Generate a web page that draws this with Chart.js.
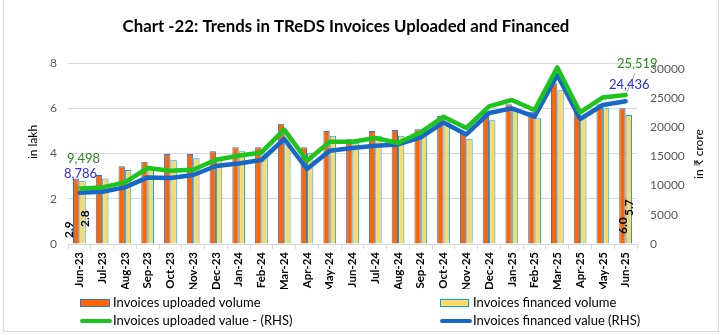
<!DOCTYPE html>
<html>
<head>
<meta charset="utf-8">
<script src="https://cdn.jsdelivr.net/npm/chart.js@4.4.1/dist/chart.umd.min.js"></script>
<style>
  html, body { margin: 0; padding: 0; background: #fff; }
  #wrap { position: relative; width: 725px; height: 335px; }
  canvas { display: block; }
</style>
</head>
<body>
<div id="wrap"><canvas id="c" width="725" height="335"></canvas></div>
<script>
// ---- Data ----
const months = ["Jun-23","Jul-23","Aug-23","Sep-23","Oct-23","Nov-23","Dec-23","Jan-24","Feb-24","Mar-24","Apr-24","May-24","Jun-24","Jul-24","Aug-24","Sep-24","Oct-24","Nov-24","Dec-24","Jan-25","Feb-25","Mar-25","Apr-25","May-25","Jun-25"];
const uploadedVolume = [2.9, 3.05, 3.44, 3.63, 3.98, 3.98, 4.10, 4.28, 4.28, 5.31, 4.28, 4.99, 4.63, 4.99, 5.04, 5.07, 5.66, 4.93, 5.85, 6.18, 5.85, 7.11, 5.88, 6.18, 6.0];
const financedVolume = [2.8, 2.9, 3.27, 3.32, 3.70, 3.79, 3.82, 4.10, 4.04, 4.90, 4.01, 4.78, 4.48, 4.78, 4.78, 4.87, 5.53, 4.65, 5.47, 5.90, 5.56, 6.80, 5.65, 6.00, 5.7];
const uploadedValue = [9498, 9694, 10550, 13016, 12554, 12725, 14438, 15123, 15688, 19576, 14267, 17521, 17521, 18155, 17298, 19114, 21802, 19867, 23567, 24663, 22950, 30246, 22539, 25108, 25519];
const financedValue = [8786, 8957, 9694, 11407, 11304, 11818, 13359, 13804, 14387, 17983, 12845, 15980, 16442, 16836, 17058, 18257, 20826, 18771, 22436, 23224, 21802, 28945, 21409, 23807, 24436];
const leftTicks = [0, 2, 4, 6, 8];
const rightTicks = [0, 5000, 10000, 15000, 20000, 25000, 30000];
const seriesNames = ["Invoices uploaded volume", "Invoices financed volume", "Invoices uploaded value - (RHS)", "Invoices financed value (RHS)"];
const titleText = "Chart -22: Trends in TReDS Invoices Uploaded and Financed";

const FONT = 'Lato, "Noto Sans", "DejaVu Sans", sans-serif';
const C_OR = '#FF6600', C_OR_B = '#2E75D6';
const C_YE = '#FFD966', C_YE_B = '#00A8F0';
const C_GR = '#1cc41c', C_BL = '#1866c8';

const decor = {
  id: 'decor',
  afterDraw(chart) {
    const ctx = chart.ctx;
    const m0 = chart.getDatasetMeta(0).data, m1 = chart.getDatasetMeta(1).data;
    const m2 = chart.getDatasetMeta(2).data, m3 = chart.getDatasetMeta(3).data;
    const n = months.length - 1;
    ctx.save();
    // outer border
    ctx.strokeStyle = '#d9d9d9'; ctx.lineWidth = 1;
    ctx.strokeRect(3.5, -1, 715, 332.5);
    // title
    ctx.fillStyle = '#000';
    ctx.font = 'bold 16.8px ' + FONT;
    ctx.textAlign = 'center'; ctx.textBaseline = 'middle';
    ctx.fillText(titleText, 346, 27);
    // axis titles
    ctx.font = '12px ' + FONT;
    ctx.save(); ctx.translate(33, 142); ctx.rotate(-Math.PI/2); ctx.fillText('in lakh', 0, 0); ctx.restore();
    ctx.save(); ctx.translate(699, 154); ctx.rotate(-Math.PI/2); ctx.fillText('in \u20B9 crore', 0, 0); ctx.restore();
    // bar data labels (first and last)
    ctx.font = 'bold 12px ' + FONT;
    ctx.textAlign = 'left'; ctx.textBaseline = 'middle'; ctx.fillStyle = '#000';
    const bl = (x, y, t) => { ctx.save(); ctx.translate(x, y); ctx.rotate(-Math.PI/2); ctx.fillText(t, 0, 0); ctx.restore(); };
    bl(m0[0].x - 7.5, 238, uploadedVolume[0].toFixed(1));
    bl(m1[0].x + 2.5, 227, financedVolume[0].toFixed(1));
    bl(m0[n].x + 0.5, 234, uploadedVolume[n].toFixed(1));
    bl(m1[n].x + 0.5, 216, financedVolume[n].toFixed(1));
    // leader lines
    ctx.strokeStyle = '#a6a6a6'; ctx.lineWidth = 1;
    ctx.beginPath(); ctx.moveTo(77, 180); ctx.lineTo(m3[0].x, m3[0].y - 2); ctx.stroke();
    ctx.beginPath(); ctx.moveTo(635, 73); ctx.lineTo(m2[n].x + 1, m2[n].y - 2); ctx.stroke();
    // line value labels
    const fmt = v => v.toLocaleString('en-US');
    ctx.font = '13px ' + FONT; ctx.textAlign = 'left';
    ctx.fillStyle = '#2a8a1a'; ctx.fillText(fmt(uploadedValue[0]), 67, 158.5);
    ctx.fillStyle = '#2b2bf0'; ctx.fillText(fmt(financedValue[0]), 64, 173.5);
    ctx.fillStyle = '#2a8a1a'; ctx.fillText(fmt(uploadedValue[n]), 617, 63.5);
    ctx.fillStyle = '#2b2bf0'; ctx.fillText(fmt(financedValue[n]), 609, 85);
    // legend
    ctx.font = '13px ' + FONT; ctx.fillStyle = '#000'; ctx.textBaseline = 'middle';
    const r1 = 303, r2 = 321;
    ctx.fillStyle = C_OR; ctx.fillRect(80, r1 - 3.5, 30, 7);
    ctx.strokeStyle = C_OR_B; ctx.lineWidth = 1; ctx.strokeRect(80.5, r1 - 3.5, 29, 7);
    ctx.fillStyle = C_YE; ctx.fillRect(440, r1 - 3.5, 29, 7);
    ctx.strokeStyle = C_YE_B; ctx.strokeRect(440.5, r1 - 3.5, 28, 7);
    ctx.lineCap = 'round'; ctx.lineWidth = 4;
    ctx.strokeStyle = C_GR; ctx.beginPath(); ctx.moveTo(82, r2); ctx.lineTo(110, r2); ctx.stroke();
    ctx.strokeStyle = C_BL; ctx.beginPath(); ctx.moveTo(442, r2); ctx.lineTo(470, r2); ctx.stroke();
    ctx.fillStyle = '#000';
    ctx.fillText(seriesNames[0], 113, r1);
    ctx.fillText(seriesNames[1], 473, r1);
    ctx.fillText(seriesNames[2], 113, r2);
    ctx.fillText(seriesNames[3], 473, r2);
    ctx.restore();
  }
};

new Chart(document.getElementById('c'), {
  type: 'bar',
  data: {
    labels: months,
    datasets: [
      { label: seriesNames[0], data: uploadedVolume, yAxisID: 'y', backgroundColor: C_OR, borderColor: C_OR_B, borderWidth: 1, order: 2, categoryPercentage: 0.56, barPercentage: 1.0 },
      { label: seriesNames[1], data: financedVolume, yAxisID: 'y', backgroundColor: C_YE, borderColor: C_YE_B, borderWidth: 1, order: 2, categoryPercentage: 0.56, barPercentage: 1.0 },
      { type: 'line', label: seriesNames[2], data: uploadedValue, yAxisID: 'y1', borderColor: C_GR, backgroundColor: C_GR, borderWidth: 4.5, pointRadius: 0, tension: 0, borderJoinStyle: 'round', borderCapStyle: 'round', order: 0 },
      { type: 'line', label: seriesNames[3], data: financedValue, yAxisID: 'y1', borderColor: C_BL, backgroundColor: C_BL, borderWidth: 4.5, pointRadius: 0, tension: 0, borderJoinStyle: 'round', borderCapStyle: 'round', order: 1 }
    ]
  },
  options: {
    responsive: false,
    animation: false,
    devicePixelRatio: 1,
    layout: { padding: { top: 63, bottom: 46, left: 0, right: 0 } },
    plugins: { legend: { display: false }, title: { display: false }, tooltip: { enabled: false } },
    scales: {
      x: {
        offset: true,
        grid: { offset: true, drawOnChartArea: false, drawTicks: true, tickLength: 5, color: '#d9d9d9' },
        border: { display: true, color: '#d9d9d9' },
        ticks: { autoSkip: false, minRotation: 90, maxRotation: 90, padding: 3, color: '#000', font: { family: FONT, size: 11.5, weight: 'bold' } },
        afterFit(s) { s.height = 45; }
      },
      y: {
        position: 'left', min: 0, max: leftTicks[leftTicks.length - 1],
        afterBuildTicks(s) { s.ticks = leftTicks.map(v => ({ value: v })); },
        grid: { color: '#d9d9d9', drawTicks: false },
        border: { display: false },
        ticks: { padding: 11, color: '#595959', font: { family: FONT, size: 12 }, callback: v => String(v) },
        afterFit(s) { s.width = 68; }
      },
      y1: {
        position: 'right', min: 0, max: 31000,
        afterBuildTicks(s) { s.ticks = rightTicks.map(v => ({ value: v })); },
        grid: { display: false, drawTicks: false },
        border: { display: false },
        ticks: { padding: 13, color: '#595959', font: { family: FONT, size: 12 }, callback: v => String(v) },
        afterFit(s) { s.width = 88; }
      }
    }
  },
  plugins: [decor]
});
</script>
</body>
</html>
